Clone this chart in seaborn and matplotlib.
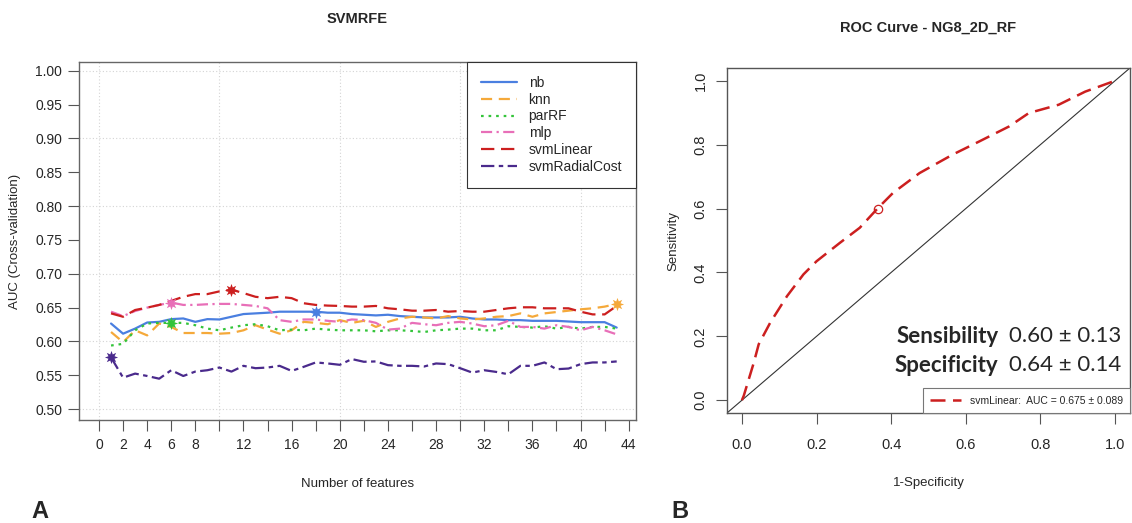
import numpy as np
import pandas as pd
import matplotlib
matplotlib.use("Agg")
import matplotlib.pyplot as plt
import seaborn as sns

# data
n_features = list(range(1, 44))

nb = [0.6265, 0.6115, 0.619, 0.628, 0.629, 0.633, 0.634, 0.629, 0.633, 0.6325,
      0.6365, 0.6405, 0.6415, 0.6425, 0.644, 0.644, 0.644, 0.644, 0.6425, 0.6425,
      0.6405, 0.6395, 0.6385, 0.6395, 0.6375, 0.6365, 0.6355, 0.6355, 0.6355, 0.6365,
      0.634, 0.6325, 0.6325, 0.6315, 0.6315, 0.6305, 0.6305, 0.6305, 0.6295, 0.6285,
      0.6285, 0.6285, 0.6205]
knn = [0.614, 0.599, 0.6165, 0.609, 0.6265, 0.6215, 0.6125, 0.6125, 0.6125, 0.6115,
       0.6125, 0.6165, 0.624, 0.6175, 0.6115, 0.6165, 0.629, 0.6275, 0.6255, 0.6315,
       0.6275, 0.6305, 0.6215, 0.629, 0.634, 0.6365, 0.6355, 0.634, 0.6375, 0.634,
       0.6325, 0.634, 0.6365, 0.6375, 0.6415, 0.6365, 0.6415, 0.6435, 0.6455, 0.6475,
       0.649, 0.6515, 0.6555]
parRF = [0.594, 0.5965, 0.6165, 0.6265, 0.6275, 0.6275, 0.6275, 0.624, 0.619, 0.6165,
         0.6205, 0.624, 0.6255, 0.6225, 0.6165, 0.6175, 0.6165, 0.619, 0.6175, 0.6165,
         0.6165, 0.6165, 0.615, 0.6165, 0.6165, 0.6155, 0.614, 0.6165, 0.6175, 0.619,
         0.619, 0.6165, 0.6165, 0.6225, 0.6215, 0.6205, 0.6225, 0.619, 0.6215, 0.619,
         0.6215, 0.6215, 0.619]
mlp = [0.644, 0.6375, 0.645, 0.65, 0.654, 0.6575, 0.654, 0.654, 0.655, 0.6555,
       0.6555, 0.654, 0.6525, 0.649, 0.6315, 0.629, 0.6325, 0.6325, 0.6305, 0.629,
       0.6325, 0.6315, 0.6275, 0.6175, 0.619, 0.6275, 0.6255, 0.624, 0.6275, 0.629,
       0.6265, 0.6225, 0.624, 0.6305, 0.6215, 0.6215, 0.619, 0.624, 0.6215, 0.6165,
       0.6215, 0.6165, 0.6105]
svmLinear = [0.6415, 0.6365, 0.6465, 0.65, 0.654, 0.66, 0.666, 0.67, 0.67, 0.674,
             0.6765, 0.6715, 0.666, 0.664, 0.666, 0.664, 0.6565, 0.654, 0.653, 0.6525,
             0.6515, 0.6515, 0.6525, 0.649, 0.6475, 0.6455, 0.6455, 0.6465, 0.644, 0.645,
             0.644, 0.644, 0.6465, 0.649, 0.6505, 0.6505, 0.649, 0.649, 0.649, 0.644,
             0.64, 0.64, 0.6525]
svmRadialCost = [0.5765, 0.5465, 0.5525, 0.549, 0.545, 0.5575, 0.549, 0.5555, 0.5575, 0.5615,
                 0.5555, 0.564, 0.5605, 0.5615, 0.564, 0.5565, 0.5625, 0.569, 0.5675, 0.5655,
                 0.574, 0.570, 0.5705, 0.565, 0.564, 0.564, 0.563, 0.5675, 0.5665, 0.5605,
                 0.554, 0.5575, 0.555, 0.5515, 0.564, 0.564, 0.569, 0.559, 0.560, 0.5665,
                 0.569, 0.569, 0.5705]

# best number of features per model (star markers)
best_n = {"nb": 18, "knn": 43, "parRF": 6, "mlp": 6, "svmLinear": 11, "svmRadialCost": 1}

# ROC curve
roc_fpr = [0.0, 0.005, 0.032, 0.045, 0.076, 0.121, 0.165, 0.2, 0.263, 0.316, 0.365,
           0.405, 0.476, 0.565, 0.636, 0.716, 0.769, 0.849, 0.92, 1.0]
roc_tpr = [0.0, 0.014, 0.118, 0.175, 0.243, 0.326, 0.394, 0.435, 0.493, 0.54, 0.602,
           0.649, 0.711, 0.769, 0.81, 0.857, 0.899, 0.925, 0.966, 1.0]
cut_point = (0.365, 0.60)

sns.set_theme(style="white")
plt.rcParams['font.family'] = ['Liberation Sans', 'DejaVu Sans']

fig = plt.figure(figsize=(11.32, 5.23), dpi=100)
ax1 = fig.add_axes([0.0698, 0.197, 0.492, 0.6845])
ax2 = fig.add_axes([0.6422, 0.2103, 0.3560, 0.6597])

series = {"nb": nb, "knn": knn, "parRF": parRF, "mlp": mlp,
          "svmLinear": svmLinear, "svmRadialCost": svmRadialCost}
colors = {"nb": "#4a7fe0", "knn": "#f5a93a", "parRF": "#33c43a", "mlp": "#e86fb8",
          "svmLinear": "#cc1f1f", "svmRadialCost": "#4a2a8c"}
styles = {"nb": "-", "knn": (0, (5, 3)), "parRF": (0, (1.2, 2.2)), "mlp": (0, (5, 2, 1, 2)),
          "svmLinear": (0, (6, 3)), "svmRadialCost": (0, (6, 2, 2, 2))}

# grid
for gx in [0, 10, 20, 30, 40]:
    ax1.axvline(gx, color="#d4d4d4", lw=0.8, ls=(0, (1, 2)), zorder=0)
for gy in [0.5, 0.6, 0.7, 0.8, 0.9, 1.0]:
    ax1.axhline(gy, color="#d4d4d4", lw=0.8, ls=(0, (1, 2)), zorder=0)

for name, vals in series.items():
    sns.lineplot(x=n_features, y=vals, ax=ax1, color=colors[name], linestyle=styles[name],
                 lw=1.6, label=name)
for name, vals in series.items():
    k = best_n[name]
    sns.scatterplot(x=[k], y=[vals[k - 1]], ax=ax1, color=colors[name], marker=(8, 1, 0),
                    s=90, linewidth=0, zorder=5)

ax1.set_xlim(-1.66, 44.6)
ax1.set_ylim(0.484, 1.013)
ax1.set_xticks(range(0, 45, 2))
ax1.set_xticklabels([str(t) if t in (0, 2, 4, 6, 8, 12, 16, 20, 24, 28, 32, 36, 40, 44) else ""
                     for t in range(0, 45, 2)])
ax1.set_yticks(np.arange(0.5, 1.001, 0.05))
ax1.set_yticklabels([f"{v:.2f}" for v in np.arange(0.5, 1.001, 0.05)])
ax1.tick_params(axis="both", direction="out", length=8, width=0.8, color="#555555",
                labelsize=10, bottom=True, left=True)
ax1.tick_params(axis="x", pad=5)
ax1.tick_params(axis="y", pad=4)
for sp in ax1.spines.values():
    sp.set_color("#666666")
    sp.set_linewidth(1.0)
ax1.set_xlabel("Number of features", fontsize=9.5, labelpad=19)
ax1.set_ylabel("AUC (Cross-validation)", fontsize=9.5, labelpad=10)
ax1.set_title("SVMRFE", fontsize=10.5, fontweight="bold", pad=28)
leg = ax1.legend(loc="upper right", fontsize=10, frameon=True, fancybox=False,
                 edgecolor="#333333", handlelength=2.6, labelspacing=0.2,
                 borderpad=1.0, borderaxespad=0, framealpha=1)
leg.get_frame().set_linewidth(0.8)

# ROC panel
ax2.axline((0, 0), (1, 1), color="#333333", lw=0.8)
sns.lineplot(x=roc_fpr, y=roc_tpr, ax=ax2, color="#cc1f1f", linestyle=(0, (6, 3)), lw=1.8,
             sort=False, label="svmLinear:  AUC = 0.675 ± 0.089")
ax2.plot(*cut_point, marker="o", ms=6, mfc="none", mec="#cc1f1f", mew=0.9)
ax2.set_xlim(-0.04, 1.04)
ax2.set_ylim(-0.04, 1.04)
ax2.set_xticks([0, 0.2, 0.4, 0.6, 0.8, 1.0])
ax2.set_yticks([0, 0.2, 0.4, 0.6, 0.8, 1.0])
ax2.set_xticklabels(["0.0", "0.2", "0.4", "0.6", "0.8", "1.0"])
ax2.set_yticklabels(["0.0", "0.2", "0.4", "0.6", "0.8", "1.0"], rotation=90, va="center")
ax2.tick_params(axis="both", direction="out", length=8, width=0.8, color="#555555",
                labelsize=10.5, bottom=True, left=True)
ax2.tick_params(axis="x", pad=10)
ax2.tick_params(axis="y", pad=6)
for sp in ax2.spines.values():
    sp.set_color("#555555")
    sp.set_linewidth(1.0)
ax2.set_xlabel("1-Specificity", fontsize=9.5, labelpad=18)
ax2.set_ylabel("Sensitivity", fontsize=9.5, labelpad=10)
ax2.set_title("ROC Curve - NG8_2D_RF", fontsize=10.5, fontweight="bold", pad=26)
leg2 = ax2.legend(loc="lower right", fontsize=7.5, frameon=True, fancybox=False,
                  edgecolor="#777777", handlelength=3.0, borderaxespad=0, framealpha=1,
                  borderpad=0.7)
leg2.get_frame().set_linewidth(0.8)

txt_font = ['Lato', 'DejaVu Sans']
ax2.text(0.687, 0.20, "Sensibility", fontsize=16, fontweight="bold", family=txt_font,
         ha="right", va="center")
ax2.text(0.717, 0.20, "0.60 ± 0.13", fontsize=16, family=txt_font, ha="left", va="center")
ax2.text(0.687, 0.11, "Specificity", fontsize=16, fontweight="bold", family=txt_font,
         ha="right", va="center")
ax2.text(0.717, 0.11, "0.64 ± 0.14", fontsize=16, family=txt_font, ha="left", va="center")

fig.text(40 / 1132, 1 - 512 / 523, "A", fontsize=17, fontweight="bold", ha="center", va="center")
fig.text(680 / 1132, 1 - 512 / 523, "B", fontsize=17, fontweight="bold", ha="center", va="center")

fig.savefig("out.png", dpi=100)
